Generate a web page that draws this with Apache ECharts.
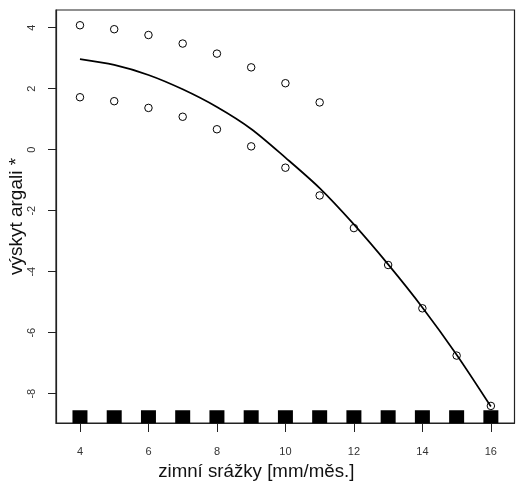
<!DOCTYPE html>
<html>
<head>
<meta charset="utf-8">
<script src="https://cdn.jsdelivr.net/npm/echarts@6/dist/echarts.min.js"></script>
<style>html,body{margin:0;padding:0;background:#fff;}#c{width:516px;height:482px;}</style>
</head>
<body>
<div id="c"></div>
<script>
const xTicks = [4, 6, 8, 10, 12, 14, 16];
const yTicks = [-8, -6, -4, -2, 0, 2, 4];
const upperX = [4, 5, 6, 7, 8, 9, 10, 11];
const upperY = [4.08, 3.95, 3.76, 3.48, 3.15, 2.70, 2.18, 1.55];
const lowerX = [4, 5, 6, 7, 8, 9, 10, 11, 12, 13, 14, 15, 16];
const lowerY = [1.72, 1.59, 1.37, 1.08, 0.67, 0.11, -0.59, -1.50, -2.57, -3.78, -5.20, -6.75, -8.40];
const curveX = [4, 5, 6, 7, 8, 9, 10, 11, 12, 13, 14, 15, 16];
const curveY = [2.97, 2.78, 2.45, 1.98, 1.40, 0.68, -0.26, -1.26, -2.45, -3.76, -5.17, -6.72, -8.42];
const rugX = [4, 5, 6, 7, 8, 9, 10, 11, 12, 13, 14, 15, 16];
const rugY = -8.755;

const zip = (xs, ys) => xs.map((x, i) => [x, ys[i]]);

const chart = echarts.init(document.getElementById('c'), null, {renderer: 'canvas'});
chart.setOption({
  animation: false,
  backgroundColor: '#fff',
  grid: {left: 56, top: 10, right: 1.5, bottom: 59, show: true, borderColor: '#222', borderWidth: 1.2,
         containLabel: false, outerBoundsMode: 'none'},
  xAxis: {
    type: 'value', min: 3.30, max: 16.69,
    name: 'zimní srážky [mm/měs.]', nameLocation: 'middle', nameGap: 39, nameMoveOverlap: false,
    nameTextStyle: {fontFamily: 'Liberation Sans', fontSize: 18.7, color: '#111', padding: [0, 58, 0, 0]},
    axisLine: {show: true, onZero: false, lineStyle: {color: '#222', width: 1.2}},
    axisTick: {show: true, inside: false, length: 9, customValues: xTicks, lineStyle: {color: '#222'}},
    axisLabel: {show: true, customValues: xTicks, margin: 23, fontFamily: 'Liberation Sans', fontSize: 11, color: '#333'},
    splitLine: {show: false}
  },
  yAxis: {
    type: 'value', min: -8.96, max: 4.58,
    name: 'výskyt argali *', nameLocation: 'middle', nameGap: 30, nameMoveOverlap: false,
    nameTextStyle: {fontFamily: 'Liberation Sans', fontSize: 19, color: '#111'},
    axisLine: {show: true, onZero: false, lineStyle: {color: '#222', width: 1.2}},
    axisTick: {show: true, inside: false, length: 8, customValues: yTicks, lineStyle: {color: '#222'}},
    axisLabel: {show: true, customValues: yTicks, rotate: 90, margin: 19, fontFamily: 'Liberation Sans', fontSize: 11, color: '#333'},
    splitLine: {show: false}
  },
  series: [
    {type: 'line', data: zip(curveX, curveY), smooth: 0.3, showSymbol: false, symbol: 'none',
     lineStyle: {color: '#000', width: 1.7}, z: 3},
    {type: 'scatter', data: zip(upperX, upperY), symbol: 'circle', symbolSize: 7.5,
     itemStyle: {color: 'rgba(255,255,255,0)', borderColor: '#000', borderWidth: 1, opacity: 1}, z: 4},
    {type: 'scatter', data: zip(lowerX, lowerY), symbol: 'circle', symbolSize: 7.5,
     itemStyle: {color: 'rgba(255,255,255,0)', borderColor: '#000', borderWidth: 1, opacity: 1}, z: 4},
    {type: 'scatter', data: rugX.map(x => [x, rugY]), symbol: 'rect', symbolSize: [15, 13],
     itemStyle: {color: '#000', opacity: 1}, z: 5}
  ]
});
</script>
</body>
</html>
